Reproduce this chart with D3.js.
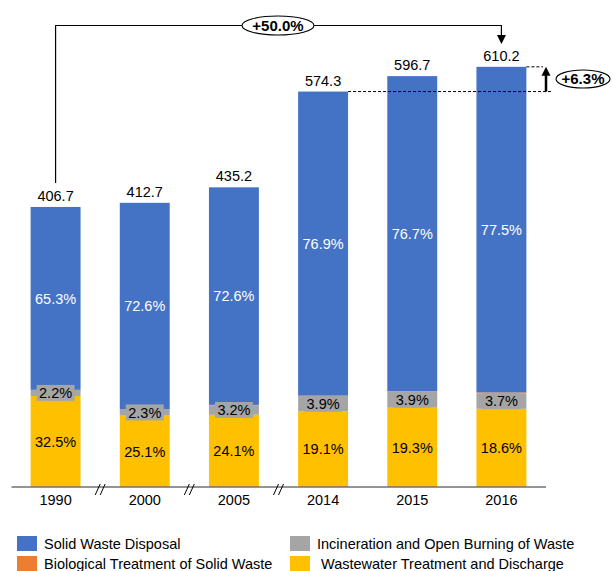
<!DOCTYPE html>
<html><head><meta charset="utf-8">
<script src="https://cdn.jsdelivr.net/npm/d3@7"></script>
<style>body{margin:0;background:#fff}svg{display:block;font-family:"Liberation Sans",Arial,sans-serif}</style>
</head><body><svg id="c" width="613" height="571"></svg>
<script>
const years = ["1990","2000","2005","2014","2015","2016"];
const totals = [406.7, 412.7, 435.2, 574.3, 596.7, 610.2];
const pctSolid = [65.3, 72.6, 72.6, 76.9, 76.7, 77.5];
const pctBio = [0.0, 0.0, 0.1, 0.1, 0.1, 0.2];
const pctIncin = [2.2, 2.3, 3.2, 3.9, 3.9, 3.7];
const pctWaste = [32.5, 25.1, 24.1, 19.1, 19.3, 18.6];
const seriesNames = ["Solid Waste Disposal","Biological Treatment of Solid Waste","Incineration and Open Burning of Waste","Wastewater Treatment and Discharge"];
const colors = {"Solid Waste Disposal":"#4472C4","Biological Treatment of Solid Waste":"#ED7D31","Incineration and Open Burning of Waste":"#A5A5A5","Wastewater Treatment and Discharge":"#FFC000"};
const growthTotal = "+50.0%";
const growthRecent = "+6.3%";

const FS = 14.5;
const svg = d3.select("#c");
const x = d3.scaleBand().domain(years).range([11, 546]).paddingInner(0.44).paddingOuter(0.22);
const y = d3.scaleLinear().domain([0, 700]).range([487, 5]);

const stackOrder = [
  {name:"Wastewater Treatment and Discharge", p:pctWaste, lab:true, fill:null, col:"#000"},
  {name:"Incineration and Open Burning of Waste", p:pctIncin, lab:true, fill:"#A5A5A5", col:"#000"},
  {name:"Biological Treatment of Solid Waste", p:pctBio, lab:false},
  {name:"Solid Waste Disposal", p:pctSolid, lab:true, fill:null, col:"#fff"}
];
const rows = years.map((yr,i)=>{
  let acc = 0; const segs = [];
  stackOrder.forEach(s=>{
    const v = totals[i]*s.p[i]/100;
    segs.push({yr, name:s.name, y0:acc, y1:acc+v, pct:s.p[i], lab:s.lab, fill:s.fill, col:s.col});
    acc += v;
  });
  return segs;
});
const segs = rows.flat();

svg.append("g").selectAll("rect").data(segs).join("rect")
  .attr("x", d=>x(d.yr)).attr("width", x.bandwidth())
  .attr("y", d=>y(d.y1)).attr("height", d=>Math.max(0, y(d.y0)-y(d.y1)))
  .attr("fill", d=>colors[d.name]);

const labs = svg.append("g").selectAll("g").data(segs.filter(d=>d.lab)).join("g")
  .attr("transform", d=>`translate(${x(d.yr)+x.bandwidth()/2},${(y(d.y0)+y(d.y1))/2})`);
labs.filter(d=>d.fill).append("rect").attr("x",-19).attr("y",-8).attr("width",38).attr("height",16).attr("fill",d=>d.fill);
labs.append("text").attr("text-anchor","middle").attr("dy","0.36em").attr("font-size",FS)
  .attr("fill",d=>d.col).text(d=>d.pct.toFixed(1)+"%");

svg.append("g").selectAll("text").data(years).join("text")
  .attr("x",(d)=>x(d)+x.bandwidth()/2).attr("y",(d,i)=>y(totals[i])-6)
  .attr("text-anchor","middle").attr("font-size",FS).attr("fill","#000").text((d,i)=>totals[i].toFixed(1));

const ax = svg.append("g").attr("transform","translate(0,487)")
  .call(d3.axisBottom(x).tickSize(0).tickPadding(8));
ax.select(".domain").attr("stroke","#707070").attr("stroke-width",1.3).attr("d","M11.5,0H546");
ax.selectAll("text").attr("font-size",FS).attr("fill","#000").attr("font-family","Liberation Sans, Arial, sans-serif");

for (let i=0;i<3;i++){
  const mx = (x(years[i])+x(years[i+1])+x.bandwidth())/2;
  [-2.5,2.5].forEach(o=>{
    svg.append("line").attr("x1",mx+o-2.5).attr("y1",495).attr("x2",mx+o+2.5).attr("y2",484)
      .attr("stroke","#000").attr("stroke-width",1);
  });
}

const cx0 = x(years[0])+x.bandwidth()/2, cx5 = x(years[5])+x.bandwidth()/2;
const topY = 25.5;
svg.append("path").attr("d",`M${cx0},${y(totals[0])-24}V${topY}H${cx5}V${36}`)
  .attr("fill","none").attr("stroke","#000").attr("stroke-width",1.2);
svg.append("path").attr("d",`M${cx5-4.5},35L${cx5+4.5},35L${cx5},44Z`).attr("fill","#000");
svg.append("ellipse").attr("cx",278).attr("cy",topY).attr("rx",36).attr("ry",9.5)
  .attr("fill","#fff").attr("stroke","#000").attr("stroke-width",1.1);
svg.append("text").attr("x",278).attr("y",topY).attr("dy","0.36em").attr("text-anchor","middle")
  .attr("font-size",15).attr("font-weight","bold").text(growthTotal);

const yA = y(totals[3]), yB = y(totals[5]);
svg.append("line").attr("x1",x(years[3])+x.bandwidth()).attr("x2",552).attr("y1",yA).attr("y2",yA)
  .attr("stroke","#000").attr("stroke-width",1).attr("stroke-dasharray","3,2");
svg.append("line").attr("x1",x(years[5])+x.bandwidth()).attr("x2",543).attr("y1",yB).attr("y2",yB)
  .attr("stroke","#000").attr("stroke-width",1).attr("stroke-dasharray","3,2");
svg.append("line").attr("x1",546).attr("x2",546).attr("y1",yA).attr("y2",yB+8)
  .attr("stroke","#000").attr("stroke-width",2.5);
svg.append("path").attr("d",`M541.5,${yB+9}L550.5,${yB+9}L546,${yB}Z`).attr("fill","#000");
svg.append("ellipse").attr("cx",583).attr("cy",79).attr("rx",27).attr("ry",9)
  .attr("fill","#fff").attr("stroke","#000").attr("stroke-width",1.1);
svg.append("text").attr("x",583).attr("y",79).attr("dy","0.36em").attr("text-anchor","middle")
  .attr("font-size",15).attr("font-weight","bold").text(growthRecent);

const legPos = [
  {name:seriesNames[0], x:17, y:536, tx:44},
  {name:seriesNames[2], x:290, y:536, tx:317},
  {name:seriesNames[1], x:17, y:556, tx:44},
  {name:seriesNames[3], x:290, y:556, tx:321}
];
const lg = svg.append("g").selectAll("g").data(legPos).join("g");
lg.append("rect").attr("x",d=>d.x).attr("y",d=>d.y).attr("width",20).attr("height",15).attr("fill",d=>colors[d.name]);
lg.append("text").attr("x",d=>d.tx).attr("y",d=>d.y+7.5).attr("dy","0.36em").attr("font-size",FS)
  .attr("fill","#000").text(d=>d.name);
</script></body></html>
